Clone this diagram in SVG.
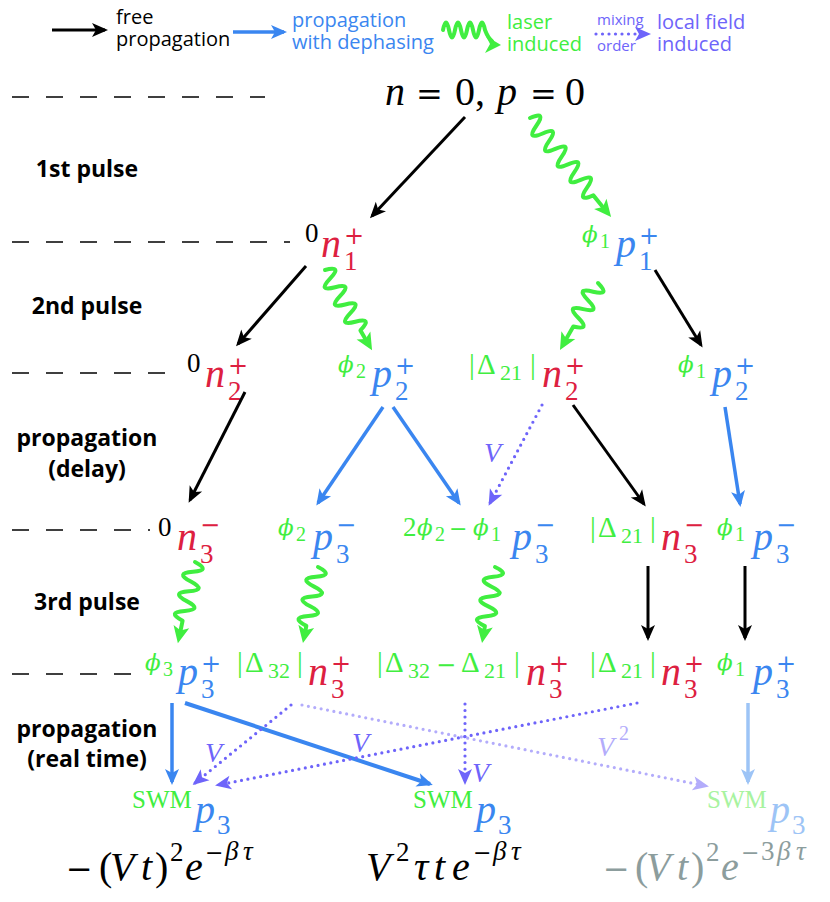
<svg xmlns="http://www.w3.org/2000/svg" width="830" height="902" viewBox="0 0 830 902">
<defs>
<style>
.m{font-family:"Liberation Serif",serif;font-style:italic;font-size:40px}
.u{font-family:"Liberation Serif",serif;font-size:40px}
.eq{font-family:"DejaVu Serif",serif;font-size:32px}
.d{font-family:"Liberation Serif",serif;font-size:27px}
.dd{font-family:"Liberation Serif",serif;font-size:20px}
.ds{font-family:"Liberation Serif",serif;font-size:22px}
.di{font-family:"Liberation Serif",serif;font-style:italic;font-size:27px}
.pm{font-family:"DejaVu Serif",serif;font-size:24px}
.pm2{font-family:"DejaVu Serif",serif;font-size:22px}
.ph{font-family:"DejaVu Serif",serif;font-style:italic;font-size:23px}
.dl{font-family:"Liberation Serif",serif;font-size:29px}
.sw{font-family:"Liberation Serif",serif;font-size:25px}
.vv{font-family:"Liberation Serif",serif;font-style:italic;font-size:28px}
.red{fill:#dd2040}.blu{fill:#3a86f0}.grn{fill:#40ee40}.blk{fill:#000}.pur{fill:#6e64fa}.lpur{fill:#b3acfb}
.lblu{fill:#9dc4f6}.lgrn{fill:#a8f3a0}.gry{fill:#8c9d9d}
.lg{font-family:"Open Sans",sans-serif;font-size:20px}
.lgs{font-family:"Open Sans",sans-serif;font-size:15px}
.lb{font-family:"Open Sans",sans-serif;font-size:23px;font-weight:700;text-anchor:middle;fill:#000}
.dash{stroke:#000;stroke-width:1.6;stroke-dasharray:17 17;fill:none}
.ak{stroke:#000;stroke-width:3;fill:none;marker-end:url(#hk)}
.ab{stroke:#3a86f0;stroke-width:3.5;fill:none;marker-end:url(#hb)}
.alb{stroke:#9dc4f6;stroke-width:3.5;fill:none;marker-end:url(#hlb)}
.ap{stroke:#6e64fa;stroke-width:3.2;stroke-dasharray:0 6.5;stroke-linecap:round;fill:none;marker-end:url(#hp)}
.alp{stroke:#b3acfb;stroke-width:3.2;stroke-dasharray:0 6.5;stroke-linecap:round;fill:none;marker-end:url(#hlp)}
.wv{stroke:#40ee40;stroke-width:4;fill:none;stroke-linecap:round;stroke-linejoin:round}
.wh{fill:#40ee40}
</style>
<marker id="hk" viewBox="-14 -8 18 16" refX="0" refY="0" markerWidth="18" markerHeight="16" markerUnits="userSpaceOnUse" orient="auto"><path d="M3,0 L-13,-7 L-9,0 L-13,7 Z" fill="#000"/></marker>
<marker id="hb" viewBox="-14 -8 18 16" refX="0" refY="0" markerWidth="18" markerHeight="16" markerUnits="userSpaceOnUse" orient="auto"><path d="M3,0 L-13,-7 L-9,0 L-13,7 Z" fill="#3a86f0"/></marker>
<marker id="hlb" viewBox="-14 -8 18 16" refX="0" refY="0" markerWidth="18" markerHeight="16" markerUnits="userSpaceOnUse" orient="auto"><path d="M3,0 L-13,-7 L-9,0 L-13,7 Z" fill="#9dc4f6"/></marker>
<marker id="hp" viewBox="-14 -8 18 16" refX="0" refY="0" markerWidth="18" markerHeight="16" markerUnits="userSpaceOnUse" orient="auto"><path d="M3,0 L-13,-7 L-9,0 L-13,7 Z" fill="#6e64fa"/></marker>
<marker id="hlp" viewBox="-14 -8 18 16" refX="0" refY="0" markerWidth="18" markerHeight="16" markerUnits="userSpaceOnUse" orient="auto"><path d="M3,0 L-13,-7 L-9,0 L-13,7 Z" fill="#b3acfb"/></marker>
</defs>
<rect width="830" height="902" fill="#fff"/>

<g id="legend">
<line class="ak" x1="52" y1="30" x2="105" y2="30"/>
<text class="lg blk" x="116" y="24">free</text>
<text class="lg blk" x="116" y="46">propagation</text>
<line class="ab" x1="233" y1="32" x2="284" y2="32"/>
<text class="lg blu" x="292" y="27">propagation</text>
<text class="lg blu" x="292" y="49">with dephasing</text>
<path class="wv" d="M443,30 q3,-15 6,0 t6,0 t6,0 t6,0 t6,0 t6,0 t6,0 q3,8 7,11"/>
<path class="wh" d="M501,45 L486,36 L490,44 L485,53 Z"/>
<text class="lg grn" x="507" y="29">laser</text>
<text class="lg grn" x="507" y="51">induced</text>
<text class="lgs pur" x="597" y="25">mixing</text>
<line class="ap" x1="596" y1="34" x2="648" y2="34"/>
<text class="lgs pur" x="597" y="51">order</text>
<text class="lg pur" x="657" y="29">local field</text>
<text class="lg pur" x="657" y="51">induced</text>
</g>

<g id="levels">
<line class="dash" x1="12" y1="97" x2="265" y2="97"/>
<line class="dash" x1="12" y1="242" x2="290" y2="242"/>
<line class="dash" x1="12" y1="373" x2="170" y2="373"/>
<line class="dash" x1="12" y1="530" x2="150" y2="530"/>
<line class="dash" x1="12" y1="674" x2="139" y2="674"/>
</g>

<g id="labels">
<text class="lb" x="87" y="177">1st pulse</text>
<text class="lb" x="87" y="314">2nd pulse</text>
<text class="lb" x="87" y="446">propagation</text>
<text class="lb" x="87" y="477">(delay)</text>
<text class="lb" x="87" y="610">3rd pulse</text>
<text class="lb" x="87" y="737">propagation</text>
<text class="lb" x="87" y="767">(real time)</text>
</g>

<g id="n0p0">
<text class="m blk" x="385" y="105">n</text>
<text class="eq blk" x="416" y="105">=</text>
<text class="u blk" x="455" y="105">0</text>
<text class="u blk" x="475" y="105">,</text>
<text class="m blk" x="497" y="105">p</text>
<text class="eq blk" x="530" y="105">=</text>
<text class="u blk" x="565" y="105">0</text>
</g>

<g id="n1">
<text class="d blk" x="305" y="242">0</text>
<text class="m red" x="321" y="257">n</text>
<text class="d red" x="344" y="270">1</text>
<text class="pm red" x="344" y="244">+</text>
</g>
<g id="p1">
<text class="ph grn" x="582" y="242">ϕ</text>
<text class="dd grn" x="600" y="248">1</text>
<text class="m blu" x="616" y="257">p</text>
<text class="d blu" x="639" y="270">1</text>
<text class="pm blu" x="639" y="244">+</text>
</g>

<g id="n2a">
<text class="d blk" x="187" y="372">0</text>
<text class="m red" x="205" y="387">n</text>
<text class="d red" x="228" y="400">2</text>
<text class="pm red" x="228" y="374">+</text>
</g>
<g id="p2a">
<text class="ph grn" x="338" y="372">ϕ</text>
<text class="dd grn" x="356" y="378">2</text>
<text class="m blu" x="372" y="387">p</text>
<text class="d blu" x="395" y="400">2</text>
<text class="pm blu" x="395" y="374">+</text>
</g>
<g id="n2b">
<text class="dl grn" x="469" y="374">|</text>
<text class="dl grn" x="477" y="374">Δ</text>
<text class="ds grn" x="500" y="380">21</text>
<text class="dl grn" x="530" y="374">|</text>
<text class="m red" x="542" y="387">n</text>
<text class="d red" x="565" y="400">2</text>
<text class="pm red" x="565" y="374">+</text>
</g>
<g id="p2b">
<text class="ph grn" x="678" y="372">ϕ</text>
<text class="dd grn" x="696" y="378">1</text>
<text class="m blu" x="712" y="387">p</text>
<text class="d blu" x="735" y="400">2</text>
<text class="pm blu" x="735" y="374">+</text>
</g>

<g id="n3a">
<text class="d blk" x="158" y="536">0</text>
<text class="m red" x="177" y="550">n</text>
<text class="d red" x="200" y="563">3</text>
<text class="pm red" x="200" y="533">−</text>
</g>
<g id="p3a">
<text class="ph grn" x="278" y="535">ϕ</text>
<text class="dd grn" x="296" y="541">2</text>
<text class="m blu" x="313" y="550">p</text>
<text class="d blu" x="336" y="563">3</text>
<text class="pm blu" x="336" y="533">−</text>
</g>
<g id="p3b">
<text class="d grn" x="403" y="536">2</text>
<text class="ph grn" x="417" y="535">ϕ</text>
<text class="dd grn" x="435" y="541">2</text>
<text class="pm2 grn" x="449" y="536">−</text>
<text class="ph grn" x="473" y="535">ϕ</text>
<text class="dd grn" x="491" y="541">1</text>
<text class="m blu" x="512" y="550">p</text>
<text class="d blu" x="535" y="563">3</text>
<text class="pm blu" x="535" y="533">−</text>
</g>
<g id="n3b">
<text class="dl grn" x="590" y="537">|</text>
<text class="dl grn" x="598" y="537">Δ</text>
<text class="ds grn" x="621" y="543">21</text>
<text class="dl grn" x="650" y="537">|</text>
<text class="m red" x="661" y="550">n</text>
<text class="d red" x="684" y="563">3</text>
<text class="pm red" x="684" y="533">−</text>
</g>
<g id="p3c">
<text class="ph grn" x="717" y="535">ϕ</text>
<text class="dd grn" x="735" y="541">1</text>
<text class="m blu" x="753" y="550">p</text>
<text class="d blu" x="776" y="563">3</text>
<text class="pm blu" x="776" y="533">−</text>
</g>

<g id="p4a">
<text class="ph grn" x="145" y="670">ϕ</text>
<text class="dd grn" x="163" y="676">3</text>
<text class="m blu" x="178" y="685">p</text>
<text class="d blu" x="201" y="698">3</text>
<text class="pm blu" x="201" y="672">+</text>
</g>
<g id="n4a">
<text class="dl grn" x="237" y="672">|</text>
<text class="dl grn" x="245" y="672">Δ</text>
<text class="ds grn" x="268" y="678">32</text>
<text class="dl grn" x="297" y="672">|</text>
<text class="m red" x="308" y="685">n</text>
<text class="d red" x="331" y="698">3</text>
<text class="pm red" x="331" y="672">+</text>
</g>
<g id="n4b">
<text class="dl grn" x="377" y="672">|</text>
<text class="dl grn" x="385" y="672">Δ</text>
<text class="ds grn" x="408" y="678">32</text>
<text class="pm grn" x="436" y="673">−</text>
<text class="dl grn" x="461" y="672">Δ</text>
<text class="ds grn" x="484" y="678">21</text>
<text class="dl grn" x="514" y="672">|</text>
<text class="m red" x="526" y="685">n</text>
<text class="d red" x="549" y="698">3</text>
<text class="pm red" x="549" y="672">+</text>
</g>
<g id="n4c">
<text class="dl grn" x="590" y="672">|</text>
<text class="dl grn" x="598" y="672">Δ</text>
<text class="ds grn" x="621" y="678">21</text>
<text class="dl grn" x="650" y="672">|</text>
<text class="m red" x="661" y="685">n</text>
<text class="d red" x="684" y="698">3</text>
<text class="pm red" x="684" y="672">+</text>
</g>
<g id="p4b">
<text class="ph grn" x="717" y="670">ϕ</text>
<text class="dd grn" x="735" y="676">1</text>
<text class="m blu" x="753" y="685">p</text>
<text class="d blu" x="776" y="698">3</text>
<text class="pm blu" x="776" y="672">+</text>
</g>

<g id="swm1">
<text class="sw grn" x="132" y="808">SWM</text>
<text class="m blu" x="195" y="823">p</text>
<text class="d blu" x="217" y="834">3</text>
</g>
<g id="swm2">
<text class="sw grn" x="413" y="808">SWM</text>
<text class="m blu" x="476" y="823">p</text>
<text class="d blu" x="498" y="834">3</text>
</g>
<g id="swm3">
<text class="sw lgrn" x="707" y="808">SWM</text>
<text class="m lblu" x="770" y="823">p</text>
<text class="d lblu" x="792" y="834">3</text>
</g>

<g id="f1" class="blk">
<text class="eq" x="66" y="880">−</text>
<text class="u" x="99" y="880">(</text>
<text class="m" x="110" y="880">V</text>
<text class="m" x="141" y="880">t</text>
<text class="u" x="155" y="880">)</text>
<text class="d" x="170" y="861">2</text>
<text class="m" x="185" y="880">e</text>
<text class="pm2" x="205" y="860">−</text>
<text class="di" x="225" y="860">β</text>
<text class="di" x="243" y="860">τ</text>
</g>
<g id="f2" class="blk">
<text class="m" x="366" y="880">V</text>
<text class="d" x="396" y="861">2</text>
<text class="m" x="414" y="880">τ</text>
<text class="m" x="434" y="880">t</text>
<text class="m" x="452" y="880">e</text>
<text class="pm2" x="473" y="860">−</text>
<text class="di" x="493" y="860">β</text>
<text class="di" x="511" y="860">τ</text>
</g>
<g id="f3" class="gry">
<text class="eq" x="603" y="880">−</text>
<text class="u" x="635" y="880">(</text>
<text class="m" x="646" y="880">V</text>
<text class="m" x="677" y="880">t</text>
<text class="u" x="691" y="880">)</text>
<text class="d" x="706" y="861">2</text>
<text class="m" x="721" y="880">e</text>
<text class="pm2" x="741" y="860">−</text>
<text class="d" x="761" y="860">3</text>
<text class="di" x="777" y="860">β</text>
<text class="di" x="796" y="860">τ</text>
</g>

<g id="connectors">
<line class="ak" x1="465" y1="117" x2="372" y2="216"/>
<line class="ak" x1="306" y1="266" x2="238" y2="344"/>
<line class="ak" x1="655" y1="270" x2="701" y2="345"/>
<line class="ak" x1="245" y1="392" x2="190" y2="500"/>
<line class="ak" x1="573" y1="405" x2="644" y2="504"/>
<line class="ak" x1="648" y1="566" x2="648" y2="638"/>
<line class="ak" x1="745" y1="566" x2="745" y2="638"/>
<line class="ab" x1="383" y1="407" x2="318" y2="503"/>
<line class="ab" x1="393" y1="407" x2="459" y2="503"/>
<line class="ab" x1="725" y1="407" x2="740" y2="504"/>
<line class="ap" x1="542" y1="405" x2="490" y2="503"/>
<text class="vv pur" x="484" y="462">V</text>
<line class="ab" x1="172" y1="703" x2="172" y2="782"/>
<line class="ab" style="stroke-width:4" x1="185" y1="703" x2="430" y2="784"/>
<line class="alb" x1="748" y1="703" x2="748" y2="782"/>
<line class="alp" x1="302" y1="705" x2="706" y2="786"/>
<line class="ap" x1="291" y1="705" x2="195" y2="783"/>
<line class="ap" x1="637" y1="703" x2="218" y2="785"/>
<line class="ap" x1="465" y1="704" x2="465" y2="782"/>
<text class="vv pur" x="205" y="762">V</text>
<text class="vv pur" x="352" y="752">V</text>
<text class="vv pur" x="472" y="782">V</text>
<text class="vv lpur" x="597" y="756">V</text>
<text class="dd lpur" x="619" y="740">2</text>
<g transform="translate(530,118) rotate(50.7)"><path class="wv" d="M0,0 q5,-18 10,0 t10,0 t10,0 t10,0 t10,0 t10,0 t10,0 t10,0 t10,0 t10,0 L114,0"/><path class="wh" d="M128,0 L111,-8 L115,0 L111,8 Z"/></g>
<g transform="translate(325,270) rotate(59.6)"><path class="wv" d="M0,0 q5,-18 10,0 t10,0 t10,0 t10,0 t10,0 t10,0 t10,0 L79,0"/><path class="wh" d="M93,0 L76,-8 L80,0 L76,8 Z"/></g>
<g transform="translate(598,283) rotate(119.6)"><path class="wv" d="M0,0 q5,-18 10,0 t10,0 t10,0 t10,0 t10,0 L63,0"/><path class="wh" d="M77,0 L60,-8 L64,0 L60,8 Z"/></g>
<g transform="translate(195,562) rotate(101.9)"><path class="wv" d="M0,0 q5,-18 10,0 t10,0 t10,0 t10,0 t10,0 t10,0 L69,0"/><path class="wh" d="M83,0 L66,-8 L70,0 L66,8 Z"/></g>
<g transform="translate(318,567) rotate(101.2)"><path class="wv" d="M0,0 q5,-18 10,0 t10,0 t10,0 t10,0 t10,0 t10,0 L64,0"/><path class="wh" d="M77.5,0 L60.5,-8 L64.5,0 L60.5,8 Z"/></g>
<g transform="translate(495,567) rotate(99.7)"><path class="wv" d="M0,0 q5,-18 10,0 t10,0 t10,0 t10,0 t10,0 t10,0 L63,0"/><path class="wh" d="M77,0 L60,-8 L64,0 L60,8 Z"/></g>
</g>
</svg>
